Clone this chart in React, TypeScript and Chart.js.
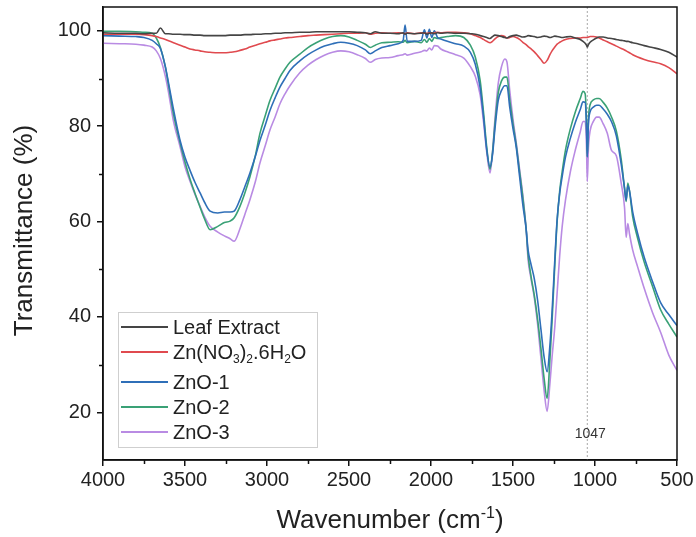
import React, { useEffect, useRef } from 'react';
import { Chart, registerables } from 'chart.js';

Chart.register(...registerables);

// ---------- data ----------
const wavenumbers = [
  4000, 3900, 3800, 3750, 3700, 3675, 3650, 3620, 3600, 3570,
  3530, 3500, 3470, 3440, 3408, 3380, 3347, 3300, 3260, 3225,
  3200, 3165, 3135, 3104, 3070, 3043, 3010, 2982, 2950, 2921,
  2890, 2860, 2800, 2750, 2700, 2650, 2600, 2550, 2500, 2450,
  2400, 2370, 2340, 2300, 2250, 2200, 2170, 2158, 2145, 2100,
  2060, 2040, 2025, 2010, 1995, 1980, 1960, 1940, 1900, 1850,
  1800, 1760, 1730, 1700, 1680, 1660, 1640, 1625, 1610, 1590,
  1570, 1550, 1537, 1520, 1500, 1480, 1460, 1440, 1420, 1408,
  1390, 1370, 1350, 1330, 1310, 1292, 1275, 1262, 1245, 1231,
  1215, 1200, 1180, 1150, 1120, 1090, 1073, 1060, 1052, 1047,
  1040, 1030, 1010, 990, 975, 950, 925, 900, 870, 840,
  820, 810, 800, 790, 770, 740, 700, 650, 600, 550,
  500,
];

const leafExtract = [
  99.6, 99.5, 99.5, 99.4, 99.5, 99.5, 100.6, 99.4, 99.4, 99.3,
  99.3, 99.2, 99.2, 99.1, 99.1, 99.0, 99.0, 99.0, 99.0, 99.1,
  99.1, 99.1, 99.2, 99.2, 99.3, 99.3, 99.4, 99.4, 99.5, 99.5,
  99.6, 99.6, 99.7, 99.7, 99.8, 99.8, 99.8, 99.8, 99.8, 99.7,
  99.6, 99.4, 99.8, 99.5, 99.5, 99.4, 99.6, 99.3, 99.5, 99.4,
  99.5, 99.6, 99.3, 99.5, 99.6, 99.4, 99.6, 99.5, 99.6, 99.5,
  99.5, 99.4, 99.3, 99.0, 98.8, 98.6, 98.4, 98.8, 99.1, 99.0,
  98.8, 98.6, 98.5, 98.8, 99.0, 99.1, 98.9, 98.7, 98.8, 99.0,
  98.9, 98.8, 98.6, 98.7, 98.9, 98.8, 98.6, 98.7, 98.9, 98.8,
  98.7, 98.6, 98.7, 98.8, 98.5, 98.2, 97.8, 97.4, 97.0, 96.6,
  97.1, 97.6, 98.1, 98.5, 98.7, 98.7, 98.5, 98.4, 98.2, 98.0,
  97.9, 97.8, 97.8, 97.7, 97.5, 97.3, 96.9, 96.5, 96.1, 95.5,
  94.5,
];

const zincNitrate = [
  99.3, 99.3, 99.3, 99.2, 99.0, 98.8, 98.5, 98.2, 97.9, 97.5,
  97.0, 96.6, 96.2, 96.0, 95.8, 95.6, 95.5, 95.4, 95.4, 95.5,
  95.6, 95.9, 96.2, 96.6, 97.0, 97.3, 97.6, 97.9, 98.1, 98.3,
  98.5, 98.6, 98.8, 99.0, 99.1, 99.2, 99.3, 99.4, 99.5, 99.5,
  99.6, 99.3, 99.5, 99.6, 99.5, 99.6, 99.5, 99.4, 99.6, 99.4,
  99.6, 99.5, 99.5, 99.6, 99.5, 99.6, 99.7, 99.6, 99.7, 99.7,
  99.6, 99.4, 99.0, 98.6, 98.2, 97.8, 97.5, 97.8, 98.3, 98.8,
  99.0, 98.8, 98.5, 98.6, 98.8, 98.6, 98.2, 97.6, 97.1, 96.7,
  96.2, 95.6, 94.8, 94.0, 93.2, 93.8, 95.0, 95.8, 96.6, 97.2,
  97.6, 97.9, 98.2, 98.4, 98.5, 98.5, 98.6, 98.6, 98.6, 98.6,
  98.7, 98.8, 98.8, 98.7, 98.5, 98.1, 97.7, 97.3, 96.8, 96.3,
  96.0, 95.8, 95.6, 95.4, 95.0, 94.5, 94.0, 93.5, 93.1, 92.3,
  91.0,
];

const zno1 = [
  99.0, 98.9, 98.8, 98.6, 98.0, 97.3, 96.3, 92.5, 89.0, 83.5,
  77.0, 73.5, 70.8, 68.3, 66.0, 64.0, 62.2, 61.8, 62.0, 62.0,
  62.2, 64.6, 67.3, 70.2, 73.8, 77.0, 80.3, 83.3, 86.0, 88.2,
  90.0, 91.7, 93.7, 95.0, 96.0, 96.8, 97.3, 97.6, 97.4, 96.9,
  96.0, 95.2, 95.8, 96.5, 96.9, 97.3, 98.0, 101.2, 97.8, 97.8,
  98.0, 100.2, 98.5, 100.3, 98.6, 100.0, 98.6, 98.3, 97.8, 97.3,
  96.8, 95.5, 93.0, 88.0, 82.0, 75.0, 71.5, 74.0, 79.5, 85.4,
  87.5, 88.5, 88.5, 84.0, 79.5, 75.5, 69.5, 63.5, 58.5, 54.0,
  51.0, 48.0, 43.5, 37.5, 31.5, 28.5, 34.0, 41.0, 52.0, 60.4,
  66.0, 69.5, 73.5, 77.5, 80.8, 83.5, 85.1, 85.0, 80.0, 73.6,
  80.5, 83.0, 84.0, 84.4, 84.4, 83.6, 82.5, 81.0, 78.0, 72.0,
  67.0, 64.5, 67.5, 66.5, 62.0, 57.5, 52.5, 47.5, 43.0, 40.5,
  38.2,
];

const zno2 = [
  99.9, 99.9, 99.8, 99.7, 99.5, 98.5, 96.5, 92.5, 88.5, 82.5,
  76.5, 72.5, 69.0, 66.0, 63.0, 60.5, 58.3, 59.0, 59.8, 60.1,
  60.8, 63.2, 66.0, 69.4, 74.0, 78.5, 82.3, 85.4, 88.0, 90.3,
  92.0, 93.4, 95.1, 96.5, 97.5, 98.3, 98.8, 99.0, 98.7, 98.0,
  97.2, 96.5, 97.0, 97.5, 97.6, 97.7, 97.6, 98.0, 97.5, 97.8,
  97.5, 98.2, 97.6, 98.4, 97.8, 98.6, 98.4, 98.6, 98.8, 99.0,
  98.6, 97.0, 94.5, 89.5, 83.0, 75.5, 71.0, 74.5, 80.5, 87.0,
  89.5, 90.3, 90.3, 85.5, 80.5, 76.0, 70.5, 65.0, 58.5, 53.0,
  48.5, 44.5, 39.5, 33.5, 27.0, 22.9, 31.0, 39.0, 51.0, 60.0,
  66.5, 70.5, 75.0, 79.5, 83.0, 85.8, 87.3, 86.8, 81.0, 73.6,
  81.5, 84.5, 85.5, 85.8, 85.8, 85.0, 83.8, 82.0, 79.0, 73.0,
  67.0, 64.2, 68.1, 66.5, 61.0, 56.5, 51.5, 46.5, 41.5, 38.5,
  35.8,
];

const zno3 = [
  97.4, 97.3, 97.2, 97.0, 96.6, 95.8, 94.2, 90.5, 87.0, 81.0,
  75.7, 71.5, 68.5, 65.8, 63.2, 61.0, 59.0, 57.8, 57.0, 56.4,
  55.9, 58.5, 61.5, 64.6, 68.5, 72.3, 76.0, 79.2, 82.0, 84.7,
  86.8, 88.5, 91.2, 92.8, 94.0, 94.9, 95.5, 95.8, 95.6, 95.0,
  94.2, 93.4, 94.0, 94.3, 94.4, 94.8, 95.0, 95.2, 94.9, 95.3,
  95.6, 95.9, 95.8, 96.4, 96.0, 96.9, 96.8, 96.2, 95.6, 95.0,
  94.3, 92.5, 90.5, 86.5, 81.0, 74.5, 70.2, 74.5, 81.5, 89.0,
  92.5, 94.1, 93.5, 87.5, 81.5, 76.5, 71.0, 65.5, 58.5, 52.0,
  48.0, 44.0, 38.5, 31.5, 24.5, 20.2, 26.0, 31.5, 38.0, 45.0,
  53.0, 59.0, 64.5, 70.5, 75.0, 78.8, 81.0, 81.0, 76.0, 68.4,
  75.5, 79.0, 81.0, 81.9, 81.9, 80.5, 78.5, 75.0, 73.8, 68.0,
  63.0, 56.7, 59.6, 57.5, 54.0, 50.5, 46.0, 41.0, 36.8, 32.0,
  28.8,
];

const seriesNames = ['Leaf Extract', 'Zn(NO₃)₂.6H₂O', 'ZnO-1', 'ZnO-2', 'ZnO-3'];
const seriesValues = [leafExtract, zincNitrate, zno1, zno2, zno3];

const xMajorTicks = [4000, 3500, 3000, 2500, 2000, 1500, 1000, 500];
const xMinorTicks = [3750, 3250, 2750, 2250, 1750, 1250, 750];
const yMajorTicks = [20, 40, 60, 80, 100];
const yMinorTicks = [30, 50, 70, 90];
const markerWavenumber = 1047;
const markerLabel = '1047';
const xTitle = 'Wavenumber (cm⁻¹)';
const yTitle = 'Transmittance (%)';

// ---------- styles ----------
const FONT = '"Liberation Sans", Arial, Helvetica, sans-serif';
const colors = ['#454545', '#e04a4f', '#2f6fb8', '#3aa176', '#b98be3'];
const TEXT = '#222222';

// ---------- rich text (sub/superscripts) ----------
const SUBS = '₀₁₂₃₄₅₆₇₈₉';
const SUPS: Record<string, string> = { '⁻': '-', '¹': '1', '²': '2', '³': '3', '⁰': '0' };

type Seg = { t: string; k: 'n' | 'sub' | 'sup' };
function segments(text: string): Seg[] {
  const out: Seg[] = [];
  for (const ch of text) {
    let k: Seg['k'] = 'n';
    let c = ch;
    const si = SUBS.indexOf(ch);
    if (si >= 0) { k = 'sub'; c = String(si); }
    else if (SUPS[ch] !== undefined) { k = 'sup'; c = SUPS[ch]; }
    const last = out[out.length - 1];
    if (last && last.k === k) last.t += c; else out.push({ t: c, k });
  }
  return out;
}
function fontFor(size: number, k: Seg['k']) {
  return `${k === 'n' ? size : Math.round(size * 0.62)}px ${FONT}`;
}
function richWidth(ctx: CanvasRenderingContext2D, text: string, size: number) {
  let w = 0;
  for (const s of segments(text)) { ctx.font = fontFor(size, s.k); w += ctx.measureText(s.t).width; }
  return w;
}
function drawRich(ctx: CanvasRenderingContext2D, text: string, x: number, y: number, size: number, align: 'left' | 'center') {
  let cx = align === 'center' ? x - richWidth(ctx, text, size) / 2 : x;
  ctx.textAlign = 'left';
  ctx.textBaseline = 'alphabetic';
  for (const s of segments(text)) {
    ctx.font = fontFor(size, s.k);
    const dy = s.k === 'sub' ? size * 0.22 : s.k === 'sup' ? -size * 0.4 : 0;
    ctx.fillText(s.t, cx, y + dy);
    cx += ctx.measureText(s.t).width;
  }
}

// ---------- decorations plugin ----------
const decorPlugin = {
  id: 'decor',
  beforeDatasetsDraw(chart: any) {
    const { ctx, chartArea: a, scales } = chart;
    const px = scales.x.getPixelForValue(markerWavenumber);
    ctx.save();
    ctx.strokeStyle = '#a8a8a8';
    ctx.lineWidth = 1;
    ctx.setLineDash([2, 2]);
    ctx.beginPath();
    ctx.moveTo(px, a.top);
    ctx.lineTo(px, a.bottom);
    ctx.stroke();
    ctx.restore();
  },
  afterDraw(chart: any) {
    const { ctx, chartArea: a, scales } = chart;
    const xs = scales.x, ys = scales.y;
    ctx.save();
    // frame
    ctx.strokeStyle = '#111';
    ctx.lineWidth = 1.5;
    ctx.strokeRect(a.left, a.top, a.right - a.left, a.bottom - a.top);
    // minor ticks
    ctx.lineWidth = 1.5;
    ctx.beginPath();
    xMinorTicks.forEach((v) => {
      const p = Math.round(xs.getPixelForValue(v)) + 0.5;
      ctx.moveTo(p, a.bottom);
      ctx.lineTo(p, a.bottom + 4);
    });
    yMinorTicks.forEach((v) => {
      const p = Math.round(ys.getPixelForValue(v)) + 0.5;
      ctx.moveTo(a.left, p);
      ctx.lineTo(a.left - 4, p);
    });
    ctx.stroke();

    // marker label
    ctx.fillStyle = '#333';
    ctx.font = `14px ${FONT}`;
    ctx.textAlign = 'center';
    ctx.textBaseline = 'alphabetic';
    ctx.fillText(markerLabel, xs.getPixelForValue(markerWavenumber) + 3, a.bottom - 22);

    // legend
    const lx = a.left + 15;
    const lw = 199;
    const lh = 135;
    const ly = a.bottom - 13 - lh;
    ctx.fillStyle = '#fff';
    ctx.fillRect(lx, ly, lw, lh);
    ctx.strokeStyle = '#cfcfcf';
    ctx.lineWidth = 1;
    ctx.strokeRect(lx + 0.5, ly + 0.5, lw, lh);
    let rowY = ly + 15;
    seriesNames.forEach((name, i) => {
      ctx.strokeStyle = colors[i];
      ctx.lineWidth = 2;
      ctx.beginPath();
      ctx.moveTo(lx + 3, rowY);
      ctx.lineTo(lx + 50, rowY);
      ctx.stroke();
      ctx.fillStyle = TEXT;
      drawRich(ctx, name, lx + 55, rowY + 7, 20, 'left');
      const hasSub = segments(name).some((s) => s.k === 'sub');
      rowY += 25 + (hasSub ? 5 : 0);
    });

    // axis titles
    ctx.fillStyle = TEXT;
    drawRich(ctx, xTitle, (a.left + a.right) / 2, 528, 26, 'center');
    ctx.save();
    ctx.translate(32, (a.top + a.bottom) / 2 - 3);
    ctx.rotate(-Math.PI / 2);
    drawRich(ctx, yTitle, 0, 0, 26, 'center');
    ctx.restore();
    ctx.restore();
  },
};

export default function App() {
  const ref = useRef<HTMLCanvasElement | null>(null);

  useEffect(() => {
    if (!ref.current) return;
    const datasets = seriesNames.map((name, i) => ({
      label: name,
      data: wavenumbers.map((w, j) => ({ x: w, y: seriesValues[i][j] })),
      borderColor: colors[i],
      backgroundColor: colors[i],
      borderWidth: 1.6,
      pointRadius: 0,
      cubicInterpolationMode: 'monotone' as const,
      fill: false,
    }));

    const chart = new Chart(ref.current, {
      type: 'line',
      data: { datasets },
      options: {
        responsive: false,
        animation: false,
        devicePixelRatio: 1,
        layout: { autoPadding: false, padding: { left: 0, right: 19, top: 7, bottom: 0 } },
        plugins: {
          legend: { display: false },
          tooltip: { enabled: false },
          title: { display: false },
        },
        scales: {
          x: {
            type: 'linear',
            reverse: true,
            min: 500,
            max: 4000,
            afterBuildTicks: (s: any) => { s.ticks = xMajorTicks.map((v) => ({ value: v })); },
            afterFit: (s: any) => {
              s.height = 77;
              s.paddingLeft = 0; s.paddingRight = 0; s.paddingTop = 0; s.paddingBottom = 0;
            },
            ticks: {
              font: { family: FONT, size: 20 },
              color: TEXT,
              padding: 2,
              maxRotation: 0,
              autoSkip: false,
              callback: (v: any) => String(v),
            },
            grid: { drawOnChartArea: false, drawTicks: true, tickLength: 6, color: '#111', lineWidth: 1.5 },
            border: { display: true, color: '#111', width: 1.5 },
          },
          y: {
            type: 'linear',
            min: 10,
            max: 105,
            afterBuildTicks: (s: any) => { s.ticks = yMajorTicks.map((v) => ({ value: v })); },
            afterFit: (s: any) => {
              s.width = 103;
              s.paddingLeft = 0; s.paddingRight = 0; s.paddingTop = 0; s.paddingBottom = 0;
            },
            ticks: {
              font: { family: FONT, size: 20 },
              color: TEXT,
              padding: 6,
              callback: (v: any) => String(v),
            },
            grid: { drawOnChartArea: false, drawTicks: true, tickLength: 6, color: '#111', lineWidth: 1.5 },
            border: { display: true, color: '#111', width: 1.5 },
          },
        },
      },
      plugins: [decorPlugin],
    });
    return () => chart.destroy();
  }, []);

  return (
    <div style={{ position: 'absolute', left: 0, top: 0, width: 696, height: 537, background: '#fff' }}>
      <canvas ref={ref} width={696} height={537} style={{ display: 'block' }} />
    </div>
  );
}
